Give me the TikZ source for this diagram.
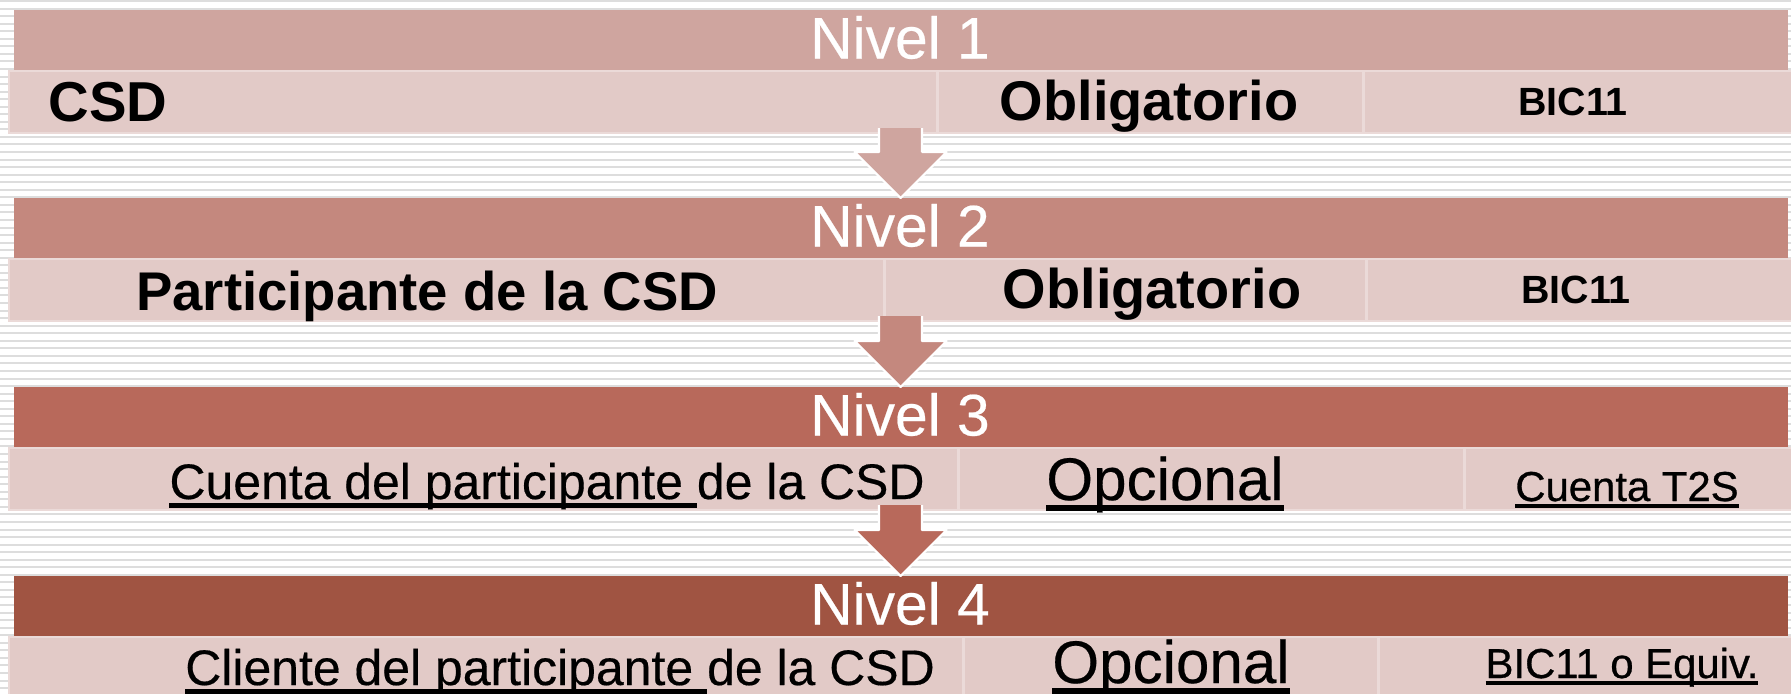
\documentclass[tikz,border=0pt]{standalone}
\usepackage{fontspec}
\setmainfont{Liberation Sans}
\newfontfamily\medio[FakeBold=0.35]{Liberation Sans}
\newfontfamily\grueso[FakeBold=0.7]{Liberation Sans}
\usetikzlibrary{positioning,calc}

\definecolor{nivelA}{HTML}{CFA59F}
\definecolor{nivelB}{HTML}{C4887E}
\definecolor{nivelC}{HTML}{B8695B}
\definecolor{nivelD}{HTML}{A05442}
\definecolor{celda}{HTML}{E2CAC7}
\definecolor{celdaborde}{HTML}{EBDAD8}
\definecolor{raya}{HTML}{DDDDDD}

% underline that also takes a trailing space
\newsavebox\subrbox
\newcommand{\subr}[1]{\sbox\subrbox{#1}\rlap{\rule[-0.175em]{\wd\subrbox}{0.1em}}\usebox\subrbox}

% block arrow from the bottom of one level down to the next header
\newcommand{\flecha}[3]{%
  \filldraw[fill=#3,draw=white,line width=0.6pt,line join=round] let \p1=(#1), \p2=(#2) in
    (\x1-0.215cm,\y1+0.05cm) -- (\x1-0.215cm,\y2+0.46cm) -- (\x1-0.46cm,\y2+0.46cm) -- (\x1,\y2)
    -- (\x1+0.46cm,\y2+0.46cm) -- (\x1+0.215cm,\y2+0.46cm) -- (\x1+0.215cm,\y1+0.05cm);}

\tikzset{
  cabecera/.style={fill=#1, minimum width=17.73cm, minimum height=0.61cm,
    inner sep=0, outer sep=0, anchor=north west},
  celdabox/.style={fill=celda, draw=celdaborde, line width=0.8pt, minimum height=0.62cm,
    inner sep=0, outer sep=0, anchor=north west},
  titulo/.style={text=white, font=\medio\fontsize{16.7}{20}\selectfont, inner sep=0, anchor=base},
  rotulo/.style={font=\bfseries\fontsize{15.9}{19}\selectfont, inner sep=0, anchor=base},
  codigo/.style={font=\bfseries\fontsize{11.2}{14}\selectfont, inner sep=0, anchor=base},
  texto/.style={font=\medio\fontsize{14.2}{17}\selectfont, inner sep=0, anchor=base},
  opcion/.style={font=\medio\fontsize{17.1}{20}\selectfont, inner sep=0, anchor=base},
  cuenta/.style={font=\grueso\fontsize{11.9}{14}\selectfont, inner sep=0, anchor=base}
}

\begin{document}
\begin{tikzpicture}[x=0.01cm,y=-0.01cm]
  \useasboundingbox (0,0) rectangle (1791,693);

% define the striped background
  \foreach \k in {0,...,91}
    \fill[raya] (0,{\k*7.55}) rectangle (1791,{\k*7.55+2});

% define the levels
  \node[cabecera=nivelA] (nivel1) at (14,10) {};
  \node[celdabox, minimum width=9.28cm] (c11) at (9,71) {};
  \node[celdabox, minimum width=4.26cm, right=0pt of c11] (c12) {};
  \node[celdabox, minimum width=4.28cm, right=0pt of c12] (c13) {};

  \node[cabecera=nivelB] (nivel2) at (14,198) {};
  \node[celdabox, minimum width=8.75cm] (c21) at (9,259) {};
  \node[celdabox, minimum width=4.82cm, right=0pt of c21] (c22) {};
  \node[celdabox, minimum width=4.25cm, right=0pt of c22] (c23) {};

  \node[cabecera=nivelC] (nivel3) at (14,387) {};
  \node[celdabox, minimum width=9.49cm] (c31) at (9,448) {};
  \node[celdabox, minimum width=5.06cm, right=0pt of c31] (c32) {};
  \node[celdabox, minimum width=3.27cm, right=0pt of c32] (c33) {};

  \node[cabecera=nivelD] (nivel4) at (14,576) {};
  \node[celdabox, minimum width=9.54cm] (c41) at (9,637) {};
  \node[celdabox, minimum width=4.15cm, right=0pt of c41] (c42) {};
  \node[celdabox, minimum width=4.13cm, right=0pt of c42] (c43) {};

% define the texts
  \node[titulo] (n1) at (900,58.5) {Nivel 1};
  \node[rotulo, font=\bfseries\fontsize{16}{20}\selectfont, anchor=base west] (t11) at (48,121) {CSD};
  \node[rotulo] (t12) at (1149,120) {Obligatorio};
  \node[codigo] (t13) at (1573,115) {BIC11};

  \node[titulo] (n2) at (900,246.5) {Nivel 2};
  \node[rotulo, font=\bfseries\fontsize{15.5}{19}\selectfont] (t21) at (427,310) {Participante de la CSD};
  \node[rotulo] (t22) at (1152,308) {Obligatorio};
  \node[codigo] (t23) at (1576,303) {BIC11};

  \node[titulo] (n3) at (900,435.5) {Nivel 3};
  \node[texto] (t31) at (547,499) {\subr{Cuenta del participante\ }de la CSD};
  \node[opcion] (t32) at (1165,500) {\subr{Opcional}};
  \node[cuenta] (t33) at (1627,501) {\subr{Cuenta T2S}};

  \node[titulo] (n4) at (900,624.5) {Nivel 4};
  \node[texto] (t41) at (560,685) {\subr{Cliente del participante\ }de la CSD};
  \node[opcion] (t42) at (1171,683) {\subr{Opcional}};
  \node[cuenta] (t43) at (1622,678) {\subr{BIC11 o Equiv.}};

% define the links
  \flecha{$(c11.south west)!.5!(c13.south east)$}{nivel2.north}{nivelA}
  \flecha{$(c21.south west)!.5!(c23.south east)$}{nivel3.north}{nivelB}
  \flecha{$(c31.south west)!.5!(c33.south east)$}{nivel4.north}{nivelC}
\end{tikzpicture}
\end{document}
